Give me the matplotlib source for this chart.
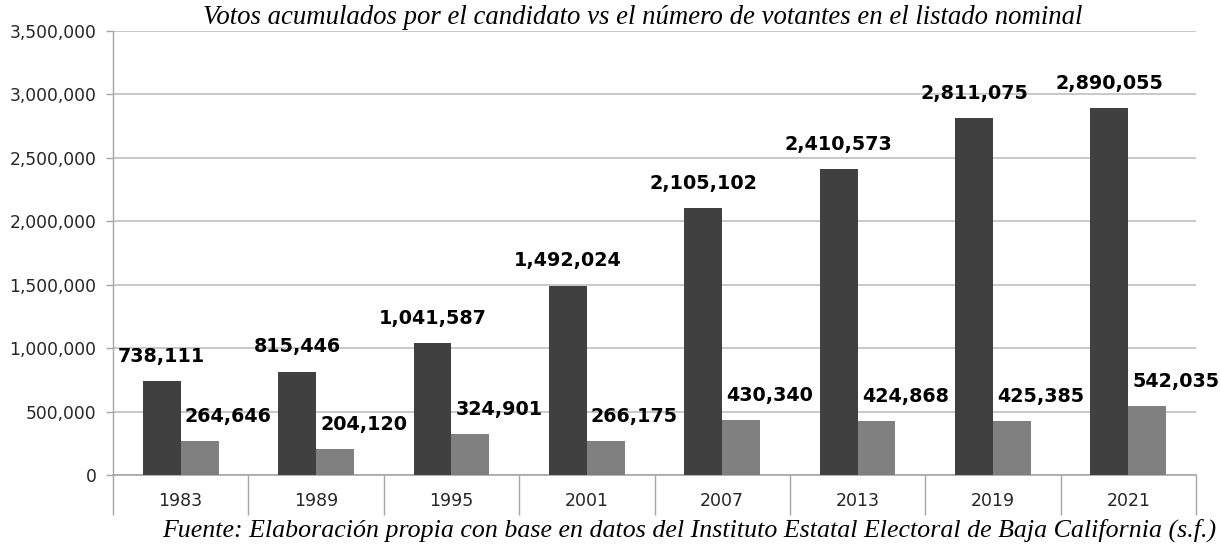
import matplotlib.pyplot as plt
from matplotlib.ticker import FuncFormatter, FixedLocator

anios = ["1983", "1989", "1995", "2001", "2007", "2013", "2019", "2021"]
listado_nominal = [738111, 815446, 1041587, 1492024, 2105102, 2410573, 2811075, 2890055]
votos_candidato = [264646, 204120, 324901, 266175, 430340, 424868, 425385, 542035]

titulo = "Votos acumulados por el candidato vs el número de votantes en el listado nominal"
fuente = "Fuente: Elaboración propia con base en datos del Instituto Estatal Electoral de Baja California (s.f.)"

fig = plt.figure(figsize=(12.2, 5.5), dpi=100)
ax = fig.add_axes([113 / 1220, 75 / 550, 1083 / 1220, 444 / 550])

x = list(range(len(anios)))
w = 0.28
ax.bar([i - w / 2 for i in x], listado_nominal, w, color="#404040", zorder=3)
ax.bar([i + w / 2 for i in x], votos_candidato, w, color="#808080", zorder=3)

# etiquetas de datos
for i in x:
    ax.annotate(f"{listado_nominal[i]:,}", (i - w / 2, listado_nominal[i]),
                xytext=(0, 11), textcoords="offset points", ha="center", va="bottom",
                fontsize=13.8, fontweight="bold", color="black")
    ax.annotate(f"{votos_candidato[i]:,}", (i, votos_candidato[i]),
                xytext=(3, 11), textcoords="offset points", ha="left", va="bottom",
                fontsize=13.8, fontweight="bold", color="black")

ax.set_xlim(-0.5, len(anios) - 0.5)
ax.set_ylim(0, 3500000)
ax.set_yticks(range(0, 3500001, 500000))
ax.yaxis.set_major_formatter(FuncFormatter(lambda v, p: f"{int(v):,}"))
ax.yaxis.grid(True, color="#bfbfbf", linewidth=1.2, zorder=0)

ax.set_xticks(x)
ax.set_xticklabels(anios)
ax.xaxis.set_minor_locator(FixedLocator([i - 0.5 for i in range(len(anios) + 1)]))
ax.tick_params(axis="x", which="major", length=0, pad=12, labelsize=12.5, labelcolor="#262626")
ax.tick_params(axis="x", which="minor", length=29, width=1, color="#a6a6a6", direction="out")
ax.tick_params(axis="y", length=5, width=1, color="#a6a6a6", labelsize=12.3, labelcolor="#262626", pad=7)

for s in ["top", "right"]:
    ax.spines[s].set_visible(False)
ax.spines["left"].set_color("#a6a6a6")
ax.spines["bottom"].set_color("#a6a6a6")
ax.spines["left"].set_linewidth(1)
ax.spines["bottom"].set_linewidth(1.2)

fig.text(643 / 1220, 1 - 18 / 550, titulo, ha="center", va="center",
         fontfamily="Liberation Serif", fontstyle="italic", fontsize=19.3)
fig.text(689 / 1220, 1 - 530 / 550, fuente, ha="center", va="center",
         fontfamily="Liberation Serif", fontstyle="italic", fontsize=18.6)

fig.savefig("out.png", dpi=100)
